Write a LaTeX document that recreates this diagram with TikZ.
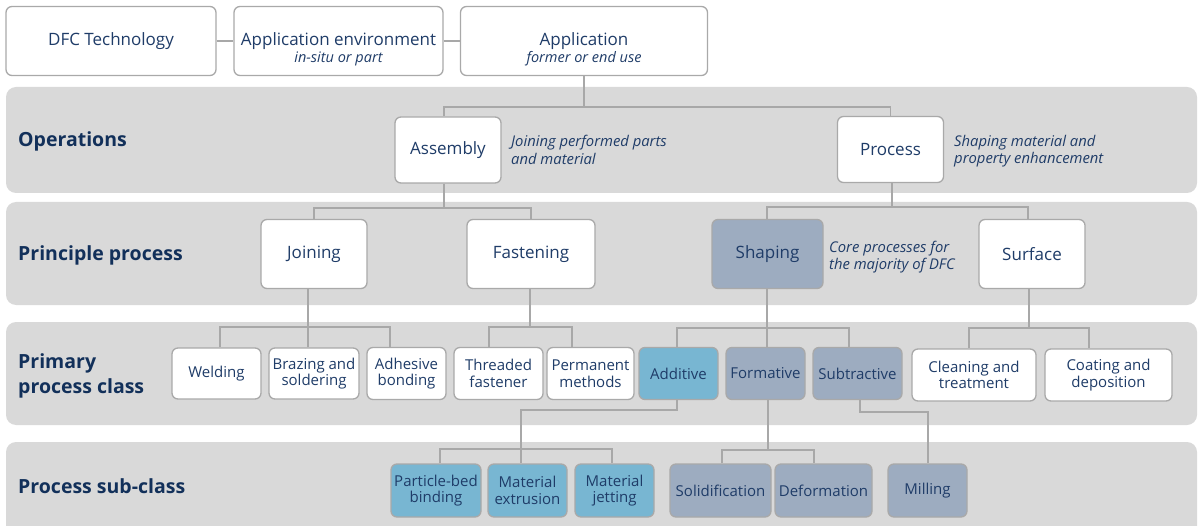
\documentclass[tikz,border=0pt]{standalone}
\usepackage{fontspec}
\setmainfont{Open Sans}
\definecolor{ink}{HTML}{1F3C68}
\definecolor{head}{HTML}{12305A}
\definecolor{bandgrey}{HTML}{D9D9D9}
\definecolor{edge}{HTML}{A9A9A9}
\definecolor{wire}{HTML}{A8A8A8}
\definecolor{slate}{HTML}{9DACC0}
\definecolor{sky}{HTML}{78B6D2}

\tikzset{
  box/.style={draw=edge, line width=1.3pt, rounded corners=6pt, fill=white,
    text=ink, align=center, inner sep=0pt, font=\fontsize{17}{19}\selectfont},
  dim/.style 2 args={minimum width=#1pt, minimum height=#2pt},
  small/.style={font=\fontsize{15}{16.5}\selectfont},
  slatebox/.style={fill=slate},
  skybox/.style={fill=sky},
  note/.style={anchor=west, align=left, text=ink, inner sep=0pt,
    font=\fontsize{14.8}{17.5}\selectfont\itshape},
  rowlabel/.style={anchor=west, align=left, text=head, inner sep=0pt,
    font=\fontsize{19.5}{25}\selectfont\bfseries},
  conn/.style={draw=wire, line width=1.3pt},
  bandfill/.style={fill=bandgrey, rounded corners=10pt},
}
% two-line header text, set a little below the box centre
\newcommand{\headtext}[2]{\raisebox{-9pt}[\height][\depth]{%
  \begin{tabular}{@{}c@{}}#1\\[-1.5pt]{\fontsize{14.5}{16}\selectfont\itshape #2}\end{tabular}}}

\begin{document}
\begin{tikzpicture}[x=1pt, y=-1pt]
  \useasboundingbox (0,0) rectangle (1198,526);
  \clip (0,0) rectangle (1198,526);

  % grey row bands
  \fill[bandfill] (6,87) rectangle (1197,193);
  \fill[bandfill] (6,202) rectangle (1197,305);
  \fill[bandfill] (6,322) rectangle (1197,425);
  \fill[bandfill] (6,442) rectangle (1197,545);

  % row titles
  \node[rowlabel] (lops)  at (18,141) {Operations};
  \node[rowlabel] (lprin) at (18,255) {Principle process};
  \node[rowlabel] (lprim) at (18,376) {Primary\\process class};
  \node[rowlabel] (lsub)  at (18,486) {Process sub-class};

  % header boxes
  \node[box, dim={210}{69}] (dfc) at (111,41) {DFC Technology};
  \node[box, dim={209}{69}] (env) at (338.5,41) {\headtext{Application environment}{in-situ or part}};
  \node[box, dim={247}{69}] (app) at (584,41) {\headtext{Application}{former or end use}};

  % operations
  \node[box, dim={106}{66}] (asm) at (448,150) {Assembly};
  \node[note] (asmnote) at (511,150) {Joining performed parts\\and material};
  \node[box, dim={106}{66}] (proc) at (890.5,149.5) {Process};
  \node[note] (procnote) at (954,151) {Shaping material and\\property enhancement};

  % principle processes
  \node[box, dim={106}{69}] (join) at (314,254) {Joining};
  \node[box, dim={128}{69}] (fast) at (531,254) {Fastening};
  \node[box, slatebox, dim={111}{69}] (shap) at (767.5,254) {Shaping};
  \node[note] (shapnote) at (829,257) {Core processes for\\the majority of DFC};
  \node[box, dim={106}{69}] (surf) at (1032,254) {Surface};

  % primary process classes
  \node[box, small, dim={89}{51}] (weld) at (216.5,373.5) {Welding};
  \node[box, small, dim={90}{51}] (braz) at (314,373.5) {Brazing and\\soldering};
  \node[box, small, dim={79}{52}] (adh) at (406.5,373.5) {Adhesive\\bonding};
  \node[box, small, dim={89}{52}] (thr) at (498.5,373.5) {Threaded\\fastener};
  \node[box, small, dim={87}{52}] (perm) at (590.5,373.5) {Permanent\\methods};
  \node[box, small, skybox, dim={79}{52}] (add) at (678.5,373.5) {Additive};
  \node[box, small, slatebox, dim={79}{52}] (form) at (765.5,373.5) {Formative};
  \node[box, small, slatebox, dim={89}{52}] (subt) at (857.5,373.5) {Subtractive};
  \node[box, small, dim={124}{52}] (clean) at (974,375) {Cleaning and\\treatment};
  \node[box, small, dim={127}{52}] (coat) at (1108.5,375) {Coating and\\deposition};

  % process sub-classes
  \node[box, small, skybox, dim={90}{53}] (pbb) at (436,490.5) {Particle-bed\\binding};
  \node[box, small, skybox, dim={79}{53}] (mext) at (527.5,490.5) {Material\\extrusion};
  \node[box, small, skybox, dim={79}{53}] (mjet) at (614.5,490.5) {Material\\jetting};
  \node[box, small, slatebox, dim={101}{53}] (solid) at (720.5,490.5) {Solidification};
  \node[box, small, slatebox, dim={97}{53}] (deform) at (823.5,490.5) {Deformation};
  \node[box, small, slatebox, dim={79}{53}] (mill) at (927.5,490.5) {Milling};

  % header chain
  \draw[conn] (dfc) -- (env);
  \draw[conn] (env) -- (app);

  % application -> operations
  \coordinate (opsbus) at (584,107);
  \draw[conn] (app.south) -- (opsbus);
  \draw[conn] ([xshift=-4pt]asm.north) |- (opsbus) -| (proc.north);

  % assembly -> joining, fastening
  \coordinate (asmbus) at (444,208);
  \draw[conn] ([xshift=-4pt]asm.south) -- (asmbus);
  \draw[conn] (join.north) |- (asmbus) -| (fast.north);

  % process -> shaping, surface
  \coordinate (procbus) at (892,207);
  \draw[conn] ([xshift=1.5pt]proc.south) -- (procbus);
  \draw[conn] ([xshift=-0.5pt]shap.north) |- (procbus) -| ([xshift=-4pt]surf.north);

  % joining -> classes
  \coordinate (joinbus) at (308,327);
  \draw[conn] ([xshift=-6pt]join.south) -- (joinbus);
  \draw[conn] ([xshift=3.5pt]weld.north) |- (joinbus) -| ([xshift=-16.5pt]adh.north);
  \draw[conn] ([xshift=-6pt]braz.north) -- (joinbus);

  % fastening -> classes
  \coordinate (fastbus) at (530,327);
  \draw[conn] ([xshift=-1pt]fast.south) -- (fastbus);
  \draw[conn] ([xshift=-9.5pt]thr.north) |- (fastbus) -| ([xshift=-18.5pt]perm.north);

  % shaping -> classes
  \coordinate (shapbus) at (767,328);
  \draw[conn] ([xshift=-0.5pt]shap.south) -- (shapbus);
  \draw[conn] ([xshift=-1.5pt]add.north) |- (shapbus) -| ([xshift=-8.5pt]subt.north);
  \draw[conn] ([xshift=1.5pt]form.north) -- (shapbus);

  % surface -> classes
  \coordinate (surfbus) at (1029,328);
  \draw[conn] ([xshift=-3pt]surf.south) -- (surfbus);
  \draw[conn] ([xshift=-5pt]clean.north) |- (surfbus) -| ([xshift=-19.5pt]coat.north);

  % additive -> sub-classes
  \coordinate (addturn) at (521,410);
  \coordinate (addbus) at (521,449);
  \draw[conn] ([xshift=-1.5pt]add.south) |- (addturn) -- (addbus);
  \draw[conn] ([xshift=4pt]pbb.north) |- (addbus) -| ([xshift=-2.5pt]mjet.north);
  \draw[conn] ([xshift=-6.5pt]mext.north) -- (addbus);

  % formative -> sub-classes
  \coordinate (formbus) at (768,450);
  \draw[conn] ([xshift=2.5pt]form.south) -- (formbus);
  \draw[conn] ([xshift=1.5pt]solid.north) |- (formbus) -| ([xshift=-9.5pt]deform.north);

  % subtractive -> milling
  \coordinate (subturn) at (928,412);
  \draw[conn] ([xshift=2.5pt]subt.south) |- (subturn) -- ([xshift=0.5pt]mill.north);
\end{tikzpicture}
\end{document}
